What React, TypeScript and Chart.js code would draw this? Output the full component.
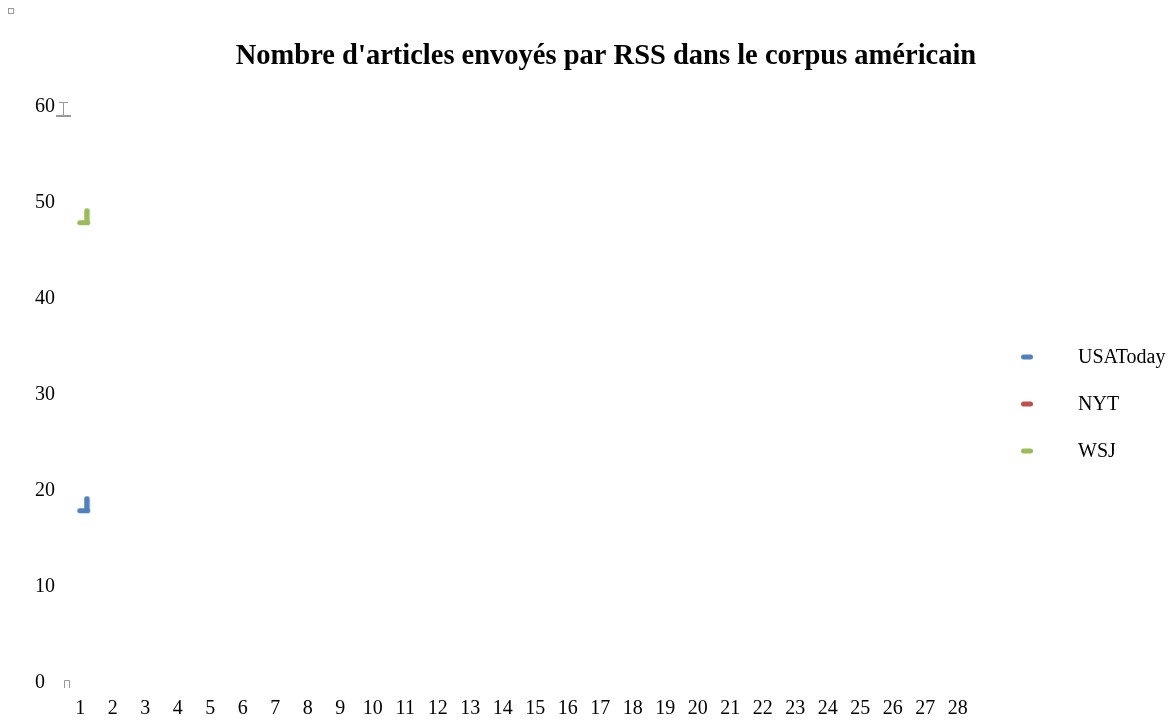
import React, { useEffect, useRef } from "react";
import { Chart, registerables } from "chart.js";

Chart.register(...registerables);

const categories = ["1", "2", "3", "4", "5", "6", "7", "8", "9", "10", "11", "12", "13", "14", "15", "16", "17", "18", "19", "20", "21", "22", "23", "24", "25", "26", "27", "28"];
const seriesNames = ["USAToday", "NYT", "WSJ"];
const usaToday: (number | null)[] = [18];
const nyt: (number | null)[] = [];
const wsj: (number | null)[] = [48];
const yMin = 0;
const yMax = 60;
const yStep = 10;
const titleText = "Nombre d'articles envoyés par RSS dans le corpus américain";

const COLORS = ["#4F81BD", "#C0504D", "#9BBB59"];
const FONT = "'Liberation Serif', 'DejaVu Serif', serif";

function rr(g: CanvasRenderingContext2D, x: number, y: number, w: number, h: number, r: number) {
  g.beginPath();
  g.moveTo(x + r, y);
  g.lineTo(x + w - r, y);
  g.arcTo(x + w, y, x + w, y + r, r);
  g.lineTo(x + w, y + h - r);
  g.arcTo(x + w, y + h, x + w - r, y + h, r);
  g.lineTo(x + r, y + h);
  g.arcTo(x, y + h, x, y + h - r, r);
  g.lineTo(x, y + r);
  g.arcTo(x, y, x + r, y, r);
  g.closePath();
  g.fill();
}

function makeMarker(color: string): HTMLCanvasElement {
  const c = document.createElement("canvas");
  c.width = 24;
  c.height = 32;
  const g = c.getContext("2d")!;
  g.fillStyle = color;
  rr(g, 9, 14, 13, 5, 2.5);
  rr(g, 16, 2, 5.5, 17, 2.5);
  return c;
}

const decorPlugin = {
  id: "decor",
  afterDraw(chart: any) {
    const ctx: CanvasRenderingContext2D = chart.ctx;
    const ca = chart.chartArea;
    const ys = chart.scales.y;
    ctx.save();
    // title
    ctx.fillStyle = "#000";
    ctx.font = `bold 28.5px ${FONT}`;
    ctx.textAlign = "center";
    ctx.textBaseline = "middle";
    ctx.fillText(titleText, 598, 49);

    // small square at top-left corner
    ctx.strokeStyle = "#999";
    ctx.lineWidth = 1;
    ctx.strokeRect(0.5, 0.5, 5, 5);

    // gray artifacts near axis
    ctx.fillStyle = "#999";
    const y60 = ys.getPixelForValue(yMax);
    const x0 = ca.left - 1;
    ctx.beginPath();
    ctx.moveTo(x0 + 0.5, y60 - 5);
    ctx.lineTo(x0 + 0.5, y60 + 8);
    ctx.moveTo(x0 - 4, y60 - 4.5);
    ctx.lineTo(x0 + 5, y60 - 4.5);
    ctx.stroke();
    ctx.fillRect(x0 - 7, y60 + 8, 15, 2);
    const y0 = ys.getPixelForValue(yMin);
    ctx.beginPath();
    ctx.moveTo(ca.left + 0.5, y0 + 5);
    ctx.lineTo(ca.left + 0.5, y0 - 2.5);
    ctx.lineTo(ca.left + 5.5, y0 - 2.5);
    ctx.lineTo(ca.left + 5.5, y0 + 5);
    ctx.stroke();

    // legend
    ctx.font = `20px ${FONT}`;
    ctx.textAlign = "left";
    ctx.textBaseline = "middle";
    chart.data.datasets.forEach((ds: any, i: number) => {
      const cy = 349 + i * 47;
      ctx.fillStyle = COLORS[i];
      rr(ctx, 1013, cy - 2.5, 12, 5, 2.5);
      ctx.fillStyle = "#000";
      ctx.fillText(ds.label, 1070, cy + 1);
    });
    ctx.restore();
  },
};

export default function App() {
  const ref = useRef<HTMLCanvasElement | null>(null);
  useEffect(() => {
    if (!ref.current) return;
    const seriesData = [usaToday, nyt, wsj];
    const chart = new Chart(ref.current, {
      type: "line",
      data: {
        labels: categories,
        datasets: seriesNames.map((name, i) => ({
          label: name,
          data: seriesData[i],
          borderColor: COLORS[i],
          backgroundColor: COLORS[i],
          showLine: false,
          pointStyle: makeMarker(COLORS[i]) as any,
          pointRadius: 8,
        })),
      },
      options: {
        animation: false,
        responsive: false,
        maintainAspectRatio: false,
        layout: { padding: { top: 99, left: 27, right: 194, bottom: 0 } },
        plugins: {
          legend: { display: false },
          title: { display: false },
          tooltip: { enabled: false },
        },
        scales: {
          x: {
            type: "category",
            offset: true,
            grid: { display: false, drawTicks: false },
            border: { display: false },
            ticks: {
              autoSkip: false,
              maxRotation: 0,
              minRotation: 0,
              padding: 14,
              color: "#000",
              font: { family: FONT, size: 20 },
            },
            afterFit(scale: any) {
              scale.height = 31;
            },
          },
          y: {
            min: yMin,
            max: yMax,
            grid: { display: false, drawTicks: false },
            border: { display: false },
            ticks: {
              stepSize: yStep,
              crossAlign: "far",
              color: "#000",
              font: { family: FONT, size: 20 },
            },
            afterFit(scale: any) {
              scale.width = 29;
            },
          },
        },
      },
      plugins: [decorPlugin],
    });
    return () => chart.destroy();
  }, []);
  return (
    <div style={{ width: 1160, height: 706 }}>
      <canvas ref={ref} width={1160} height={706} style={{ display: "block" }} />
    </div>
  );
}
